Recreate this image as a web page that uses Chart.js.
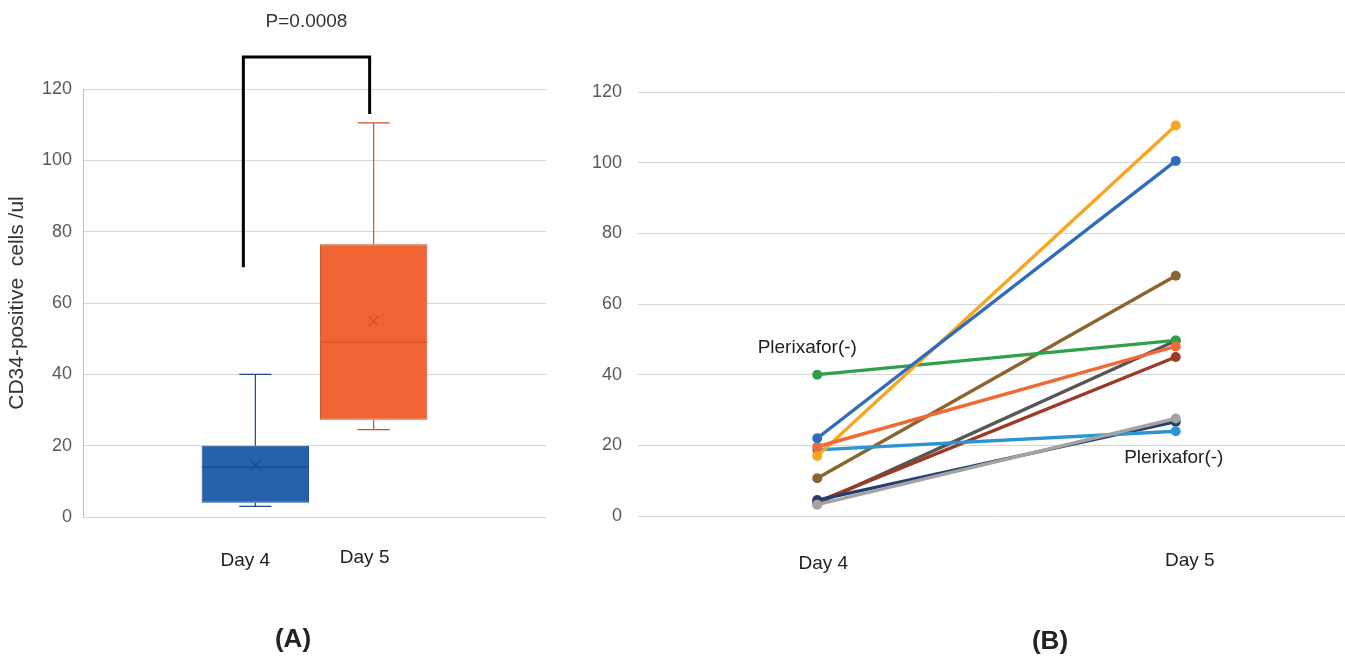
<!DOCTYPE html>
<html>
<head>
<meta charset="utf-8">
<script src="https://cdn.jsdelivr.net/npm/chart.js@4.4.1/dist/chart.umd.min.js"></script>
<style>
  html, body { margin: 0; padding: 0; background: #fff; width: 1345px; height: 656px; overflow: hidden; }
  #wrapA { position: absolute; left: 0; top: 0; }
  #wrapB { position: absolute; left: 560px; top: 0; }
</style>
</head>
<body>
<div id="wrapA"><canvas id="boxChart" width="560" height="656"></canvas></div>
<div id="wrapB"><canvas id="lineChart" width="800" height="656"></canvas></div>
<script>
// panel A: box plot summary
const boxLabels = ['Day 4', 'Day 5'];
const boxMin = [3, 24.5];
const boxQ1 = [4, 27.3];
const boxMedian = [14, 49];
const boxMean = [14.5, 55];
const boxQ3 = [20, 76.5];
const boxMax = [40, 110.5];
const boxFill = ['#2560ad', '#f06433'];
const boxEdge = ['#1c4a86', '#c9522a'];
const pValueText = 'P=0.0008';
const bracketLevels = [70, 129, 113]; // left leg bottom, top bar, right leg bottom

// panel B: paired values per patient
const dayLabels = ['Day 4', 'Day 5'];
const patientDay4 = [22, 19.6, 3.2, 17, 18.7, 40, 4.5, 4, 3.5, 10.7];
const patientDay5 = [100.5, 48, 27.6, 110.5, 24, 49.7, 26.7, 45, 49.6, 68];
const lineColors = ['#2f6dba', '#f26a33', '#a3a3a3', '#f7a61f', '#2a95d2', '#30a04a', '#243e72', '#9c3a25', '#575757', '#8c6430'];
const noteLabel = 'Plerixafor(-)';

const FONT = '"Liberation Sans", Arial, sans-serif';
Chart.defaults.font.family = FONT;

const boxExtras = {
  id: 'boxExtras',
  afterDatasetsDraw(chart) {
    const ctx = chart.ctx;
    const y = chart.scales.y;
    ctx.save();
    boxLabels.forEach((lab, i) => {
      const bar = chart.getDatasetMeta(i).data[0];
      const x = bar.x, w = bar.width, cap = w * 0.3;
      ctx.strokeStyle = boxEdge[i];
      ctx.lineWidth = 1.2;
      ctx.beginPath();
      ctx.moveTo(x, y.getPixelForValue(boxQ3[i]));
      ctx.lineTo(x, y.getPixelForValue(boxMax[i]));
      ctx.moveTo(x - cap / 2, y.getPixelForValue(boxMax[i]));
      ctx.lineTo(x + cap / 2, y.getPixelForValue(boxMax[i]));
      ctx.moveTo(x, y.getPixelForValue(boxQ1[i]));
      ctx.lineTo(x, y.getPixelForValue(boxMin[i]));
      ctx.moveTo(x - cap / 2, y.getPixelForValue(boxMin[i]));
      ctx.lineTo(x + cap / 2, y.getPixelForValue(boxMin[i]));
      ctx.moveTo(x - w / 2, y.getPixelForValue(boxMedian[i]));
      ctx.lineTo(x + w / 2, y.getPixelForValue(boxMedian[i]));
      const my = y.getPixelForValue(boxMean[i]);
      ctx.moveTo(x - 5, my - 5); ctx.lineTo(x + 5, my + 5);
      ctx.moveTo(x + 5, my - 5); ctx.lineTo(x - 5, my + 5);
      ctx.stroke();
    });
    ctx.restore();
  },
  afterDraw(chart) {
    const ctx = chart.ctx;
    const y = chart.scales.y;
    const b0 = chart.getDatasetMeta(0).data[0];
    const b1 = chart.getDatasetMeta(1).data[0];
    ctx.save();
    // significance bracket
    const lx = b0.x - 12, rx = b1.x - 4;
    ctx.strokeStyle = '#000';
    ctx.lineWidth = 3;
    ctx.beginPath();
    ctx.moveTo(lx, y.getPixelForValue(bracketLevels[0]));
    ctx.lineTo(lx, y.getPixelForValue(bracketLevels[1]));
    ctx.lineTo(rx, y.getPixelForValue(bracketLevels[1]));
    ctx.lineTo(rx, y.getPixelForValue(bracketLevels[2]));
    ctx.stroke();
    ctx.fillStyle = '#333';
    ctx.font = '19px ' + FONT;
    ctx.textAlign = 'center';
    ctx.textBaseline = 'middle';
    ctx.fillText(pValueText, (lx + rx) / 2, 22);
    // category labels
    ctx.fillStyle = '#222';
    ctx.fillText(boxLabels[0], b0.x - 10, 561);
    ctx.fillText(boxLabels[1], b1.x - 9, 558);
    ctx.font = 'bold 26px ' + FONT;
    ctx.fillText('(A)', 293, 640);
    ctx.restore();
  }
};

new Chart(document.getElementById('boxChart'), {
  type: 'bar',
  data: {
    labels: [''],
    datasets: boxLabels.map((lab, i) => ({
      label: lab,
      data: [[boxQ1[i], boxQ3[i]]],
      backgroundColor: boxFill[i],
      borderColor: boxEdge[i],
      borderWidth: 1,
      borderSkipped: false,
      categoryPercentage: 0.511,
      barPercentage: 0.908
    }))
  },
  options: {
    responsive: false,
    animation: false,
    layout: { padding: { top: 89, bottom: 139, left: 0, right: 14 } },
    plugins: { legend: { display: false }, tooltip: { enabled: false } },
    scales: {
      x: { display: false },
      y: {
        min: 0, max: 120,
        ticks: { stepSize: 20, color: '#595959', font: { size: 18 }, padding: 11 },
        grid: { color: '#d6d6d6', drawTicks: false },
        border: { display: true, color: '#bfbfbf' },
        title: { display: true, text: 'CD34-positive  cells /ul', color: '#333', font: { size: 21 }, padding: { top: 5, bottom: 0 } },
        afterFit(s) { s.width = 83; }
      }
    }
  },
  plugins: [boxExtras]
});

const noteMarks = [
  { series: 5, index: 0, dx: -10, dy: -27 },
  { series: 4, index: 1, dx: -2, dy: 27 }
];
const dayLabelShift = [6, 14];

const lineNotes = {
  id: 'lineNotes',
  afterDraw(chart) {
    const ctx = chart.ctx;
    const xs = chart.scales.x;
    ctx.save();
    ctx.fillStyle = '#222';
    ctx.font = '19px ' + FONT;
    ctx.textAlign = 'center';
    ctx.textBaseline = 'middle';
    noteMarks.forEach(n => {
      const pt = chart.getDatasetMeta(n.series).data[n.index];
      ctx.fillText(noteLabel, pt.x + n.dx, pt.y + n.dy);
    });
    dayLabels.forEach((d, i) => {
      ctx.fillText(d, xs.getPixelForValue(i) + dayLabelShift[i], 564 - i * 3);
    });
    ctx.font = 'bold 26px ' + FONT;
    ctx.fillText('(B)', 490, 642);
    ctx.restore();
  }
};

new Chart(document.getElementById('lineChart'), {
  type: 'line',
  data: {
    labels: dayLabels,
    datasets: patientDay4.map((v, i) => ({
      label: 'Patient ' + (i + 1),
      data: [v, patientDay5[i]],
      borderColor: lineColors[i],
      backgroundColor: lineColors[i],
      pointBackgroundColor: lineColors[i],
      borderWidth: 3.4,
      pointRadius: 5,
      pointBorderWidth: 0,
      tension: 0,
      fill: false
    }))
  },
  options: {
    responsive: false,
    animation: false,
    layout: { padding: { top: 92, bottom: 140, left: 0, right: 0 } },
    plugins: { legend: { display: false }, tooltip: { enabled: false } },
    scales: {
      x: { offset: true, display: false },
      y: {
        min: 0, max: 120,
        ticks: { stepSize: 20, color: '#595959', font: { size: 18 }, padding: 16 },
        grid: { color: '#d6d6d6', drawTicks: false },
        border: { display: false },
        afterFit(s) { s.width = 78; }
      }
    }
  },
  plugins: [lineNotes]
});
</script>
</body>
</html>
